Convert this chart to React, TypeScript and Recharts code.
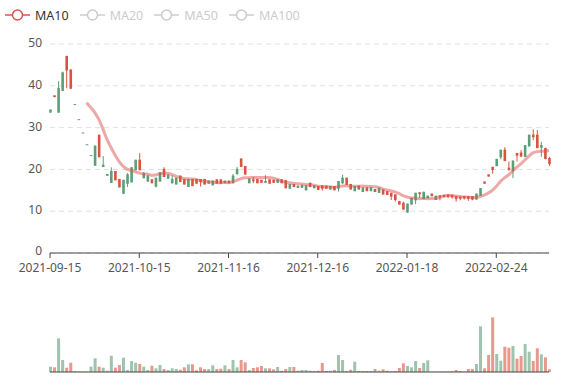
import React from 'react';
import { ComposedChart, Bar, Line, XAxis, YAxis, CartesianGrid, Cell } from 'recharts';

// x-axis labels shown at these candle positions
const tickIndex = [0, 22, 44, 66, 88, 110];
const tickLabels = ['2021-09-15', '2021-10-15', '2021-11-16', '2021-12-16', '2022-01-18', '2022-02-24'];
const priceTicks = [0, 10, 20, 30, 40, 50];

const opens = [
  33.7, 37.6, 33.7, 38.9, 47.0, 43.8, 35.5, 31.9, 28.7, 25.9,
  23.3, 21.0, 28.2, 20.7, 18.6, 16.9, 19.5, 17.6, 14.3, 16.7,
  17.0, 19.9, 22.2, 18.0, 17.2, 17.5, 16.0, 17.2, 20.0, 17.9,
  16.8, 16.5, 18.4, 17.6, 15.9, 17.6, 17.6, 17.6, 17.6, 16.7,
  16.3, 17.5, 17.5, 16.8, 17.2, 16.8, 19.0, 22.5, 20.7, 16.8,
  17.5, 17.6, 17.4, 16.9, 17.5, 17.4, 16.9, 17.5, 17.3, 15.5,
  16.4, 15.7, 15.7, 15.1, 16.7, 15.6, 15.9, 16.1, 16.0, 15.3,
  15.9, 15.5, 16.8, 17.9, 16.4, 14.9, 16.0, 14.7, 15.6, 14.9,
  15.2, 14.5, 15.1, 14.7, 14.3, 13.9, 12.3, 11.9, 9.8, 11.7,
  12.7, 14.4, 13.0, 13.2, 14.1, 12.8, 13.7, 13.8, 13.9, 13.8,
  13.5, 13.4, 13.5, 13.5, 13.5, 12.9, 13.8, 17.0, 18.7, 20.5,
  20.9, 23.0, 24.6, 20.3, 19.7, 23.8, 23.9, 23.1, 25.6, 28.2,
  28.2, 25.3, 25.0, 22.6,
];
const closes = [
  34.2, 37.4, 39.4, 43.1, 43.8, 39.4, 35.5, 31.9, 28.7, 25.9,
  23.3, 25.6, 23.0, 21.0, 18.8, 19.5, 17.5, 15.8, 17.4, 18.7,
  20.4, 22.2, 19.9, 19.0, 18.4, 16.8, 17.9, 19.2, 18.3, 18.6,
  17.6, 17.9, 17.1, 16.5, 17.6, 16.1, 16.7, 17.1, 16.5, 17.2,
  17.2, 16.7, 16.7, 17.2, 16.8, 18.4, 20.0, 20.7, 18.9, 17.7,
  17.3, 16.8, 16.9, 17.1, 16.7, 16.9, 17.5, 16.8, 15.6, 16.4,
  15.9, 15.9, 16.2, 16.1, 15.9, 16.1, 15.2, 15.5, 15.5, 15.9,
  15.1, 17.1, 17.9, 16.4, 15.3, 15.9, 15.3, 15.6, 14.9, 15.6,
  14.7, 15.5, 14.1, 14.0, 13.6, 12.8, 11.7, 10.5, 11.7, 13.1,
  14.3, 14.2, 14.5, 13.6, 13.7, 13.6, 13.4, 13.6, 13.5, 13.4,
  13.0, 13.1, 13.2, 13.1, 12.9, 14.1, 15.4, 16.7, 18.4, 20.0,
  22.4, 24.6, 22.1, 20.0, 22.0, 23.4, 23.2, 25.7, 28.2, 27.8,
  25.2, 25.7, 22.6, 21.4,
];
const highs = [
  34.3, 37.6, 41.1, 43.4, 47.2, 43.8, 35.5, 31.9, 28.7, 25.9,
  23.3, 25.6, 28.2, 23.2, 18.9, 20.5, 19.6, 17.7, 17.5, 19.1,
  20.6, 22.3, 23.9, 19.4, 18.7, 17.6, 18.0, 19.3, 20.5, 18.9,
  18.6, 18.0, 18.5, 17.7, 17.7, 17.7, 17.7, 17.7, 17.7, 17.3,
  17.3, 17.6, 17.6, 17.3, 17.3, 18.9, 20.6, 22.6, 20.8, 17.8,
  18.2, 17.7, 17.5, 18.6, 17.6, 17.5, 17.6, 17.6, 17.4, 16.5,
  16.5, 16.3, 16.3, 16.2, 16.8, 16.2, 16.0, 16.2, 16.1, 16.0,
  16.0, 17.2, 18.7, 18.0, 16.5, 16.0, 16.1, 15.7, 15.7, 15.7,
  15.3, 15.6, 15.2, 14.8, 14.4, 14.0, 12.4, 12.3, 11.8, 13.2,
  14.4, 14.5, 14.7, 13.7, 14.2, 13.7, 13.8, 13.9, 14.0, 13.9,
  13.6, 13.5, 13.6, 13.6, 13.6, 14.2, 15.5, 17.0, 18.7, 20.5,
  22.5, 24.7, 25.3, 21.9, 22.1, 23.9, 24.6, 25.8, 28.3, 29.6,
  29.4, 26.6, 25.2, 23.0,
];
const lows = [
  33.6, 37.4, 33.6, 38.7, 39.4, 39.4, 35.5, 31.9, 28.7, 25.9,
  23.3, 20.9, 23.0, 20.7, 18.4, 16.8, 17.4, 15.7, 14.1, 15.8,
  16.9, 19.8, 19.8, 17.9, 17.0, 16.7, 15.7, 17.1, 18.2, 17.8,
  16.6, 16.4, 17.0, 16.4, 15.8, 16.0, 16.6, 15.9, 16.4, 16.6,
  16.2, 16.6, 16.6, 16.7, 16.7, 16.7, 18.7, 20.6, 18.7, 16.7,
  16.7, 16.7, 16.8, 16.8, 16.6, 16.8, 16.8, 16.7, 15.5, 15.4,
  15.8, 15.6, 15.6, 15.0, 15.8, 15.5, 15.1, 14.9, 15.4, 15.2,
  15.0, 14.7, 16.5, 16.3, 15.2, 14.8, 15.2, 14.6, 14.8, 14.8,
  14.6, 14.4, 14.0, 13.9, 12.7, 12.3, 11.6, 10.4, 9.6, 11.6,
  11.7, 13.2, 12.9, 13.1, 13.6, 12.7, 12.6, 13.3, 13.1, 13.0,
  12.3, 12.6, 12.8, 12.5, 12.6, 12.8, 13.7, 16.6, 18.3, 19.0,
  20.8, 22.4, 22.0, 19.7, 17.9, 21.9, 23.0, 23.0, 25.5, 27.0,
  25.1, 23.0, 22.4, 20.8,
];
const volumes = [
  5.3, 4.7, 33.7, 12, 4.3, 9.3, 1, 0.4, 0.4, 0.4,
  5.3, 13.7, 5.3, 4.3, 1.3, 16.3, 4.3, 7, 14.3, 2,
  11, 9.3, 8, 5.3, 2, 6.3, 3.7, 7, 3, 2,
  3.7, 3, 2.3, 4.7, 7.7, 7.7, 1.7, 4.7, 3, 3,
  6.7, 3, 3.3, 6.7, 3, 12, 4.7, 12, 9.7, 2,
  4, 4.7, 6, 3.7, 3.7, 2.7, 5, 1.3, 3, 5,
  5, 1.3, 2, 2, 1.3, 1, 1.3, 9, 1, 1.3,
  2, 17, 12, 1, 2.3, 10.3, 1, 1, 1, 1,
  3, 1.3, 2.7, 1.3, 0.7, 1, 4, 8.7, 6, 4.7,
  11, 4, 9, 11.7, 0.3, 0.3, 0.3, 0.3, 0.5, 0.7,
  2, 1, 0.3, 3, 3, 8, 45.7, 3.7, 17, 54.7,
  18, 11.3, 25.3, 24.3, 26, 13.3, 16, 28, 20.3, 11,
  23.7, 17.7, 14.7, 2.7,
];

const maNames = ['MA10', 'MA20', 'MA50', 'MA100'];
const maShown = ['MA10'];

const UP = '#5c9e78';
const DOWN = '#d9533f';
const MA_COLOR = '#d9534f';
const FONT = "'Noto Sans', sans-serif";

// 10-day moving average of the closes
const ma10 = closes.map((_, i) =>
  i < 9 ? null : +(closes.slice(i - 9, i + 1).reduce((a, b) => a + b, 0) / 10).toFixed(2)
);

const data = closes.map((c, i) => ({
  idx: i,
  open: opens[i],
  close: c,
  high: highs[i],
  low: lows[i],
  range: [lows[i], highs[i]],
  vol: volumes[i],
  ma10: ma10[i],
}));

const Candle = (props: any) => {
  const { x, y, width, height, payload } = props;
  const { open, close, high, low } = payload;
  const cx = x + width / 2;
  const span = high - low;
  const py = (v: number) => (span > 0 ? y + ((high - v) / span) * height : y);
  const color = close >= open ? UP : DOWN;
  const top = py(Math.max(open, close));
  const bot = py(Math.min(open, close));
  return (
    <g>
      <line x1={cx} x2={cx} y1={y} y2={y + height} stroke={color} strokeWidth={1} />
      <rect x={cx - 1.3} y={top - 0.5} width={2.6} height={Math.max(bot - top, 0) + 1} fill={color} />
    </g>
  );
};

const PriceTick = (props: any) => {
  const { x, y, payload } = props;
  // lift the bottom label a little so it clears the date labels
  const lift = payload.value === 0 ? -2 : -1;
  return (
    <text x={x} y={y + lift} dy="0.355em" textAnchor="end" fill="#555" fontSize={12} fontFamily={FONT}>
      {payload.value}
    </text>
  );
};

const LegendBar = () => (
  <div style={{ position: 'absolute', top: 7, left: 5, display: 'flex', fontFamily: FONT, fontSize: 12.5 }}>
    {maNames.map((name) => {
      const on = maShown.includes(name);
      const c = on ? MA_COLOR : '#ccc';
      return (
        <div key={name} style={{ display: 'flex', alignItems: 'center', marginRight: 11, height: 16 }}>
          <svg width={25} height={14} style={{ marginRight: 5 }}>
            <line x1={0} x2={25} y1={7} y2={7} stroke={c} strokeWidth={1.5} />
            <circle cx={12.5} cy={7} r={5} fill="#fff" stroke={c} strokeWidth={1.5} />
          </svg>
          <span style={{ color: on ? '#333' : '#ccc' }}>{name}</span>
        </div>
      );
    })}
  </div>
);

const fmtTick = (v: number) => {
  const k = tickIndex.indexOf(v);
  return k >= 0 ? tickLabels[k] : '';
};

export default function App() {
  return (
    <div style={{ position: 'absolute', top: 0, left: 0, width: 577, height: 380, background: '#fff' }}>
      <LegendBar />
      <div style={{ position: 'absolute', top: 0, left: 0 }}>
        <ComposedChart width={577} height={290} data={data} margin={{ top: 44, right: 28, bottom: 0, left: 0 }}>
          <CartesianGrid vertical={false} stroke="#e0e0e0" strokeDasharray="5 4" />
          <XAxis
            type="number"
            dataKey="idx"
            domain={[0, 123]}
            ticks={tickIndex}
            interval={0}
            tickFormatter={fmtTick}
            height={37}
            tickSize={5}
            tickMargin={5}
            axisLine={{ stroke: '#444' }}
            tickLine={{ stroke: '#444' }}
            tick={{ fill: '#555', fontSize: 12, fontFamily: FONT }}
          />
          <YAxis
            width={50}
            domain={[0, 50]}
            ticks={priceTicks}
            axisLine={false}
            tickLine={false}
            tick={<PriceTick />}
          />
          <Bar dataKey="range" barSize={3} shape={<Candle />} isAnimationActive={false} />
          <Line
            type="monotone"
            dataKey="ma10"
            stroke={MA_COLOR}
            strokeOpacity={0.5}
            strokeWidth={3}
            dot={false}
            activeDot={false}
            connectNulls
            isAnimationActive={false}
          />
        </ComposedChart>
      </div>
      <div style={{ position: 'absolute', top: 290, left: 0 }}>
        <ComposedChart width={577} height={90} data={data} margin={{ top: 12, right: 28, bottom: 0, left: 0 }}>
          <XAxis
            type="number"
            dataKey="idx"
            domain={[0, 123]}
            height={8}
            tick={false}
            tickLine={false}
            axisLine={{ stroke: '#444' }}
          />
          <YAxis width={50} domain={[0, 70]} tick={false} axisLine={false} tickLine={false} />
          <Bar dataKey="vol" barSize={3} isAnimationActive={false}>
            {data.map((d) => (
              <Cell key={d.idx} fill={d.close >= d.open ? UP : DOWN} fillOpacity={0.6} />
            ))}
          </Bar>
        </ComposedChart>
      </div>
    </div>
  );
}
